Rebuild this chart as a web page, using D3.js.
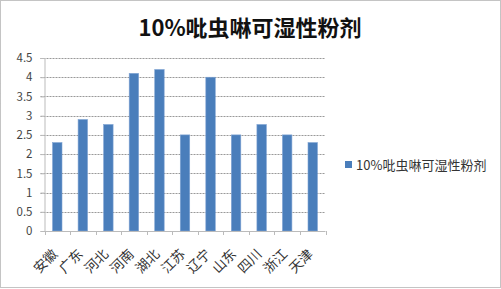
<!DOCTYPE html>
<html>
<head>
<meta charset="utf-8">
<script src="https://cdn.jsdelivr.net/npm/d3@7"></script>
<style>
  body { margin: 0; background: #fff; }
  text { font-family: "Noto Sans CJK SC", "DejaVu Sans", sans-serif; }
</style>
</head>
<body>
<svg id="chart"></svg>
<script>
const width = 501;
const height = 289;
const categories = ["安徽", "广东", "河北", "河南", "湖北", "江苏", "辽宁", "山东", "四川", "浙江", "天津"];
const values = [2.3, 2.9, 2.77, 4.1, 4.2, 2.5, 4.0, 2.5, 2.77, 2.5, 2.3];
const yTicks = [0, 0.5, 1, 1.5, 2, 2.5, 3, 3.5, 4, 4.5];
const seriesName = "10%吡虫啉可湿性粉剂";
const title = "10%吡虫啉可湿性粉剂";

const plot = { left: 44.5, right: 325.5, top: 58, bottom: 231 };

const svg = d3.select('#chart').attr('width', width).attr('height', height);

// outer border
svg.append('rect')
  .attr('x', 0.5).attr('y', 0.5)
  .attr('width', width - 1).attr('height', height - 2)
  .attr('fill', '#fff')
  .attr('stroke', '#888').attr('stroke-dasharray', '1,1');

const xs = d3.scaleBand().domain(categories).range([plot.left, plot.right]).paddingInner(0.63).paddingOuter(0.315);
const xb = d3.scaleBand().domain(categories).range([plot.left, plot.right]);
const ys = d3.scaleLinear().domain([0, 4.5]).range([plot.bottom, plot.top]);

// gridlines
svg.append('g')
  .selectAll('line')
  .data(yTicks.filter(d => d > 0))
  .enter().append('line')
  .attr('x1', plot.left - 4).attr('x2', plot.right)
  .attr('y1', d => Math.round(ys(d)) + 0.5).attr('y2', d => Math.round(ys(d)) + 0.5)
  .attr('stroke', '#999').attr('stroke-dasharray', '2,1');

// y axis
const ya = d3.axisLeft(ys).tickValues(yTicks).tickSize(4).tickPadding(8).tickFormat(d3.format(''));
const yg = svg.append('g').attr('transform', `translate(${plot.left},0)`).call(ya);
yg.select('.domain').attr('stroke', '#bbb');
yg.selectAll('.tick line').attr('stroke', '#bbb');
yg.selectAll('text').attr('font-size', 11.5).attr('fill', '#444').attr('font-family', 'Liberation Sans, sans-serif');

// bars
svg.append('g')
  .selectAll('rect')
  .data(values)
  .enter().append('rect')
  .attr('x', (d, i) => xs(categories[i]))
  .attr('y', d => ys(d))
  .attr('width', xs.bandwidth())
  .attr('height', d => plot.bottom - ys(d))
  .attr('fill', '#4a7ebb')
  .attr('stroke', '#7fa3d3').attr('stroke-width', 0.6);

// x axis
const xg = svg.append('g').attr('transform', `translate(0,${plot.bottom})`);
xg.append('line')
  .attr('x1', plot.left).attr('x2', plot.right)
  .attr('y1', 0.5).attr('y2', 0.5)
  .attr('stroke', '#bbb');
xg.selectAll('.tk')
  .data(categories.concat(['end']))
  .enter().append('line')
  .attr('x1', (d, i) => Math.round(plot.left + i * xb.bandwidth()) + 0.5)
  .attr('x2', (d, i) => Math.round(plot.left + i * xb.bandwidth()) + 0.5)
  .attr('y1', 0).attr('y2', 4)
  .attr('stroke', '#bbb');
xg.selectAll('text')
  .data(categories)
  .enter().append('text')
  .attr('transform', d => `translate(${xb(d) + xb.bandwidth() / 2 + 1},${24}) rotate(-45)`)
  .attr('text-anchor', 'end')
  .attr('font-size', 13.5)
  .attr('fill', '#333')
  .text(d => d);

// title
svg.append('text')
  .attr('x', 250).attr('y', 36)
  .attr('text-anchor', 'middle')
  .attr('font-size', 22).attr('font-weight', 'bold')
  .attr('fill', '#111')
  .text(title);

// legend
svg.append('rect')
  .attr('x', 345).attr('y', 161).attr('width', 7).attr('height', 7)
  .attr('fill', '#4a7ebb');
svg.append('text')
  .attr('x', 356).attr('y', 169.5)
  .attr('font-size', 13).attr('fill', '#333')
  .text(seriesName);
</script>
</body>
</html>
